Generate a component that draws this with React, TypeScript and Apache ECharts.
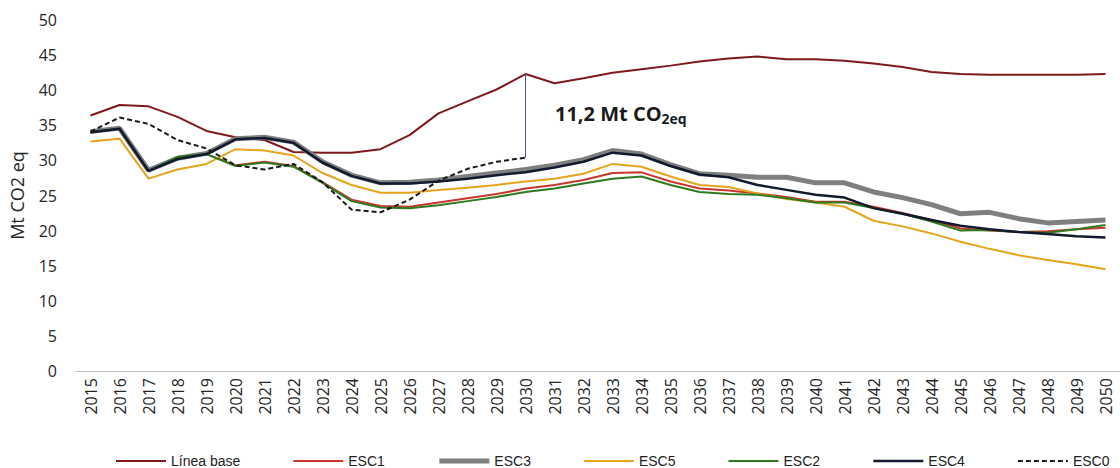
import React, { useEffect, useRef } from "react";
import * as echarts from "echarts";

const years = [
  "2015","2016","2017","2018","2019","2020","2021","2022","2023","2024",
  "2025","2026","2027","2028","2029","2030","2031","2032","2033","2034",
  "2035","2036","2037","2038","2039","2040","2041","2042","2043","2044",
  "2045","2046","2047","2048","2049","2050",
];

const lineaBase = [
  36.4, 37.9, 37.7, 36.2, 34.2, 33.3, 32.9, 31.2, 31.1, 31.1,
  31.6, 33.6, 36.7, 38.4, 40.1, 42.3, 41.0, 41.7, 42.5, 43.0,
  43.5, 44.1, 44.5, 44.8, 44.4, 44.4, 44.2, 43.8, 43.3, 42.6,
  42.3, 42.2, 42.2, 42.2, 42.2, 42.3,
];

const esc1 = [
  34.0, 34.5, 28.6, 30.5, 30.9, 29.3, 29.8, 29.2, 26.9, 24.4,
  23.5, 23.4, 24.0, 24.6, 25.2, 26.0, 26.5, 27.2, 28.2, 28.3,
  27.0, 26.0, 25.7, 25.3, 24.8, 24.1, 24.1, 23.4, 22.5, 21.5,
  20.3, 20.0, 19.8, 19.9, 20.2, 20.4,
];

const esc3 = [
  34.1, 34.6, 28.6, 30.3, 31.0, 33.1, 33.3, 32.6, 29.8, 27.9,
  26.8, 26.9, 27.2, 27.7, 28.2, 28.7, 29.3, 30.1, 31.4, 30.9,
  29.4, 28.1, 27.9, 27.6, 27.6, 26.8, 26.8, 25.5, 24.7, 23.7,
  22.4, 22.6, 21.7, 21.1, 21.3, 21.5,
];

const esc5 = [
  32.7, 33.1, 27.4, 28.7, 29.5, 31.6, 31.4, 30.7, 28.2, 26.5,
  25.4, 25.4, 25.8, 26.1, 26.5, 27.0, 27.4, 28.1, 29.5, 29.1,
  27.7, 26.5, 26.2, 25.3, 24.5, 24.0, 23.4, 21.4, 20.6, 19.6,
  18.4, 17.4, 16.5, 15.8, 15.2, 14.5,
];

const esc2 = [
  34.0, 34.5, 28.5, 30.5, 30.9, 29.2, 29.7, 29.1, 26.8, 24.2,
  23.3, 23.2, 23.6, 24.2, 24.8, 25.5, 26.0, 26.7, 27.4, 27.7,
  26.5, 25.5, 25.2, 25.1, 24.6, 24.0, 24.0, 23.2, 22.4, 21.3,
  20.0, 20.1, 19.8, 19.7, 20.2, 20.8,
];

const esc4 = [
  34.0, 34.5, 28.5, 30.2, 30.9, 33.0, 33.2, 32.5, 29.7, 27.8,
  26.7, 26.7, 27.0, 27.4, 27.9, 28.3, 29.0, 29.8, 31.1, 30.7,
  29.2, 28.0, 27.6, 26.5, 25.8, 25.1, 24.7, 23.2, 22.4, 21.5,
  20.7, 20.2, 19.8, 19.5, 19.2, 19.0,
];

const esc0 = [
  34.1, 36.1, 35.2, 32.9, 31.7, 29.3, 28.7, 29.5, 26.9, 23.0,
  22.6, 24.4, 27.1, 28.8, 29.8, 30.4,
];

const yTicks = { min: 0, max: 50, interval: 5 };
const gapYear = "2030";
const gapLabel = "11,2 Mt CO";
const gapSub = "2eq";

export default function App() {
  const ref = useRef<HTMLDivElement>(null);

  useEffect(() => {
    document.body.style.margin = "0";
    if (!ref.current) return;
    const chart = echarts.init(ref.current, null, { renderer: "svg" });
    const gapIdx = years.indexOf(gapYear);
    const font = "'Open Sans', 'DejaVu Sans', sans-serif";
    const mk = (name: string, data: (number | null)[], color: string, width: number, type: any = "solid", extra: any = {}) => ({
      name,
      type: "line",
      data,
      symbol: "none",
      showSymbol: false,
      smooth: false,
      lineStyle: { color, width, type },
      itemStyle: { color },
      ...extra,
    });
    chart.setOption({
      animation: false,
      backgroundColor: "#ffffff",
      grid: { left: 76, right: -7, top: 20, bottom: 97, containLabel: false },
      legend: {
        left: 110,
        top: 449,
        padding: 5,
        itemWidth: 50,
        itemHeight: 12,
        itemGap: 52,
        itemStyle: { opacity: 0 },
        textStyle: { fontFamily: "'Liberation Sans', Arial, sans-serif", fontSize: 14, color: "#222" },
        data: [
          { name: "Línea base", lineStyle: { width: 2 } },
          { name: "ESC1", lineStyle: { width: 2 } },
          { name: "ESC3", lineStyle: { width: 5 } },
          { name: "ESC5", lineStyle: { width: 2 } },
          { name: "ESC2", lineStyle: { width: 2 } },
          { name: "ESC4", lineStyle: { width: 2.5 } },
          { name: "ESC0", lineStyle: { width: 2 } },
        ],
      },
      xAxis: {
        type: "category",
        data: years,
        boundaryGap: true,
        axisLine: { show: true, lineStyle: { color: "#BFBFBF", width: 1 } },
        axisTick: { show: false },
        axisLabel: { interval: 0, rotate: 90, margin: 7, fontSize: 16, color: "#262626", fontFamily: font },
        splitLine: { show: false },
      },
      yAxis: {
        type: "value",
        min: yTicks.min,
        max: yTicks.max,
        interval: yTicks.interval,
        name: "Mt CO2 eq",
        nameLocation: "middle",
        nameGap: 50,
        nameTextStyle: { fontSize: 18, color: "#262626", fontFamily: font },
        axisLine: { show: false },
        axisTick: { show: false },
        axisLabel: { margin: 19, fontSize: 16, color: "#262626", fontFamily: font },
        splitLine: { show: false },
      },
      series: [
        mk("Línea base", lineaBase, "#7E1A1D", 2),
        mk("ESC1", esc1, "#C8372D", 2),
        mk("ESC3", esc3, "#7F7F7F", 5),
        mk("ESC5", esc5, "#E5A41C", 2),
        mk("ESC2", esc2, "#2E7A1E", 2),
        mk("ESC4", esc4, "#111A2E", 2.5),
        mk("ESC0", esc0, "#1A1A1A", 2, [5, 3], {
          markLine: {
            silent: true,
            symbol: "none",
            label: { show: false },
            lineStyle: { color: "#4A5A96", width: 1, type: "solid" },
            data: [[
              { coord: [gapIdx, esc0[gapIdx]] },
              { coord: [gapIdx, lineaBase[gapIdx]] },
            ]],
          },
        }),
      ],
      graphic: [
        {
          type: "text",
          left: 555,
          top: 103,
          style: {
            text: `{a|${gapLabel}}{b|${gapSub}}`,
            rich: {
              a: { fontSize: 20, fontWeight: "bold", fill: "#1a1a1a", fontFamily: font },
              b: { fontSize: 14, fontWeight: "bold", fill: "#1a1a1a", fontFamily: font, padding: [11, 0, 0, 0] },
            },
          },
        },
      ],
    });
    return () => chart.dispose();
  }, []);

  return <div ref={ref} style={{ width: 1120, height: 468 }} />;
}
